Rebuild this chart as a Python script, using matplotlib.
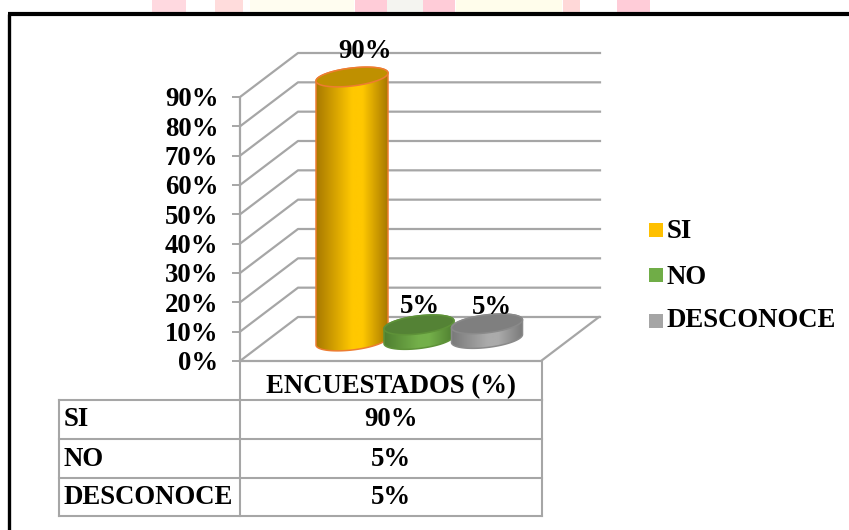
import numpy as np
import matplotlib
matplotlib.use('Agg')
import matplotlib.pyplot as plt
from matplotlib.colors import LinearSegmentedColormap
from matplotlib.patches import Polygon, Rectangle

categories = ['SI', 'NO', 'DESCONOCE']
values = [90, 5, 5]
value_labels = ['90%', '5%', '5%']
ticks = [0, 10, 20, 30, 40, 50, 60, 70, 80, 90]
series_name = 'ENCUESTADOS (%)'

W, H = 849, 530
GRID = '#A6A6A6'
FONT = dict(family='Liberation Serif', weight='bold', color='black', fontsize=19.3)

# scale of the value axis and depth of the floor, in pixels
PX_PER_PCT = 264 / 90
DEPTH_X, DEPTH_Y = 58, 44

fig = plt.figure(figsize=(W / 100, H / 100), dpi=100)

# layer in pixels for the frame, table and legend
page = fig.add_axes([0, 0, 1, 1])
page.set_xlim(0, W)
page.set_ylim(H, 0)
page.axis('off')

# faded bits of the page behind the chart
for x0, x1, col in [(152, 186, '#FFD9E0'), (215, 243, '#FFDCDC'), (250, 354, '#FFFDF0'),
                    (355, 387, '#FFCCD8'), (387, 423, '#F4F4F0'), (423, 455, '#FFCCD8'),
                    (456, 562, '#FFFDEB'), (563, 580, '#FFD8D8'), (617, 650, '#FFCCD8')]:
    page.add_patch(Rectangle((x0, 0), x1 - x0, 12, color=col, lw=0))

page.plot([9.5, 9.5], [14, H], color='black', lw=2.4, solid_capstyle='butt')
page.plot([8, W], [14, 14], color='black', lw=3.0, solid_capstyle='butt')

# data table
col_x = [59, 240, 542]
row_y = [400, 439, 478, 516]
for y in row_y:
    page.plot([col_x[0], col_x[2]], [y, y], color=GRID, lw=1.5)
for x in col_x:
    page.plot([x, x], [row_y[0], row_y[-1]], color=GRID, lw=1.5)
for x in col_x[1:]:
    page.plot([x, x], [361, row_y[0]], color=GRID, lw=1.5)
page.text(391, 387, series_name, ha='center', va='center', **FONT)
for i, name in enumerate(categories):
    mid = (row_y[i] + row_y[i + 1]) / 2 + 0.5
    page.text(64, mid, name, ha='left', va='center', **FONT)
    page.text(391, mid, value_labels[i], ha='center', va='center', **FONT)

# legend
legend_cols = ['#FFC000', '#70AD47', '#A5A5A5']
for name, col, y, ty in zip(categories, legend_cols, [230, 275, 321], [231.5, 277, 320.5]):
    page.add_patch(Rectangle((649, y - 7), 14, 14, color=col, lw=0))
    page.text(667, ty, name, ha='left', va='center', **FONT)

# chart axes: x in pixels, y in percent
top_px = 40
ax = fig.add_axes([240 / W, (H - 361) / H, (610 - 240) / W, (361 - top_px) / H])
ax.patch.set_alpha(0)
ax.set_xlim(240, 610)
ymax = (361 - top_px) / PX_PER_PCT
ax.set_ylim(0, ymax)
for side in ['top', 'right', 'bottom']:
    ax.spines[side].set_visible(False)
ax.spines['left'].set_color(GRID)
ax.spines['left'].set_linewidth(1.6)
ax.spines['left'].set_bounds(0, 90)
ax.set_xticks([])
ax.set_yticks(ticks)
ax.set_yticklabels(['%d%%' % t for t in ticks], **FONT)
ax.tick_params(axis='y', color=GRID, width=1.4, length=6, pad=9.5)

dy = DEPTH_Y / PX_PER_PCT
for t in ticks:
    ax.plot([240, 240 + DEPTH_X, 600], [t, t + dy, t + dy], color=GRID, lw=1.6, zorder=1)
ax.plot([240, 541, 541 + DEPTH_X], [0, 0, dy], color=GRID, lw=1.6, zorder=1, clip_on=False)


def ring(cx, cy, half_w, start, stop):
    # tilted ellipse outline, right side higher than the left
    t = np.linspace(start, stop, 80)
    x = cx + half_w * np.cos(t)
    y = cy + (9 * np.sin(t) + 4 * np.cos(t)) / PX_PER_PCT
    return np.column_stack([x, y])


def cylinder(cx, base, value, half_w, edge, mid, top_col, line, z):
    top = base + value
    body = np.vstack([ring(cx, top, half_w, 0, np.pi), ring(cx, base, half_w, np.pi, 2 * np.pi)])
    cmap = LinearSegmentedColormap.from_list('body', [(0, edge), (0.5, mid), (0.65, mid), (1, edge)])
    im = ax.imshow(np.linspace(0, 1, 200)[None, :], cmap=cmap, aspect='auto', zorder=z,
                   extent=[cx - half_w, cx + half_w, base - 12 / PX_PER_PCT, top + 12 / PX_PER_PCT])
    clip = Polygon(body, closed=True, transform=ax.transData, fill=False, lw=0)
    ax.add_patch(clip)
    im.set_clip_path(clip)
    ax.add_patch(Polygon(body, closed=True, fill=False, ec=line, lw=1.1, zorder=z + 0.1))
    ax.add_patch(Polygon(ring(cx, top, half_w, 0, 2 * np.pi), closed=True, fc=top_col, ec=line,
                         lw=1.1, zorder=z + 0.2))


centers = [352, 419, 487]
half_widths = [36, 35, 35.5]
bases = [(361 - 341) / PX_PER_PCT, (361 - 339.5) / PX_PER_PCT, (361 - 338.5) / PX_PER_PCT]
styles = [('#A87900', '#FFC800', '#BF9000', '#ED7D31'),
          ('#4F7F30', '#74B04A', '#548235', '#5E9238'),
          ('#7A7A7A', '#ABABAB', '#7F7F7F', '#8A8A8A')]
label_offsets = [(13, 26), (1, 18), (5, 16)]

for i in range(len(values)):
    edge, mid, top_col, line = styles[i]
    cylinder(centers[i], bases[i], values[i], half_widths[i], edge, mid, top_col, line, 3 + i)
    off = label_offsets[i]
    ax.annotate(value_labels[i], (centers[i], bases[i] + values[i]),
                xytext=(off[0] * 0.72, off[1] * 0.72), textcoords='offset points',
                ha='center', va='center', zorder=10, **FONT)

ax.set_xlim(240, 610)
ax.set_ylim(0, ymax)

fig.savefig('out.png', dpi=100)
